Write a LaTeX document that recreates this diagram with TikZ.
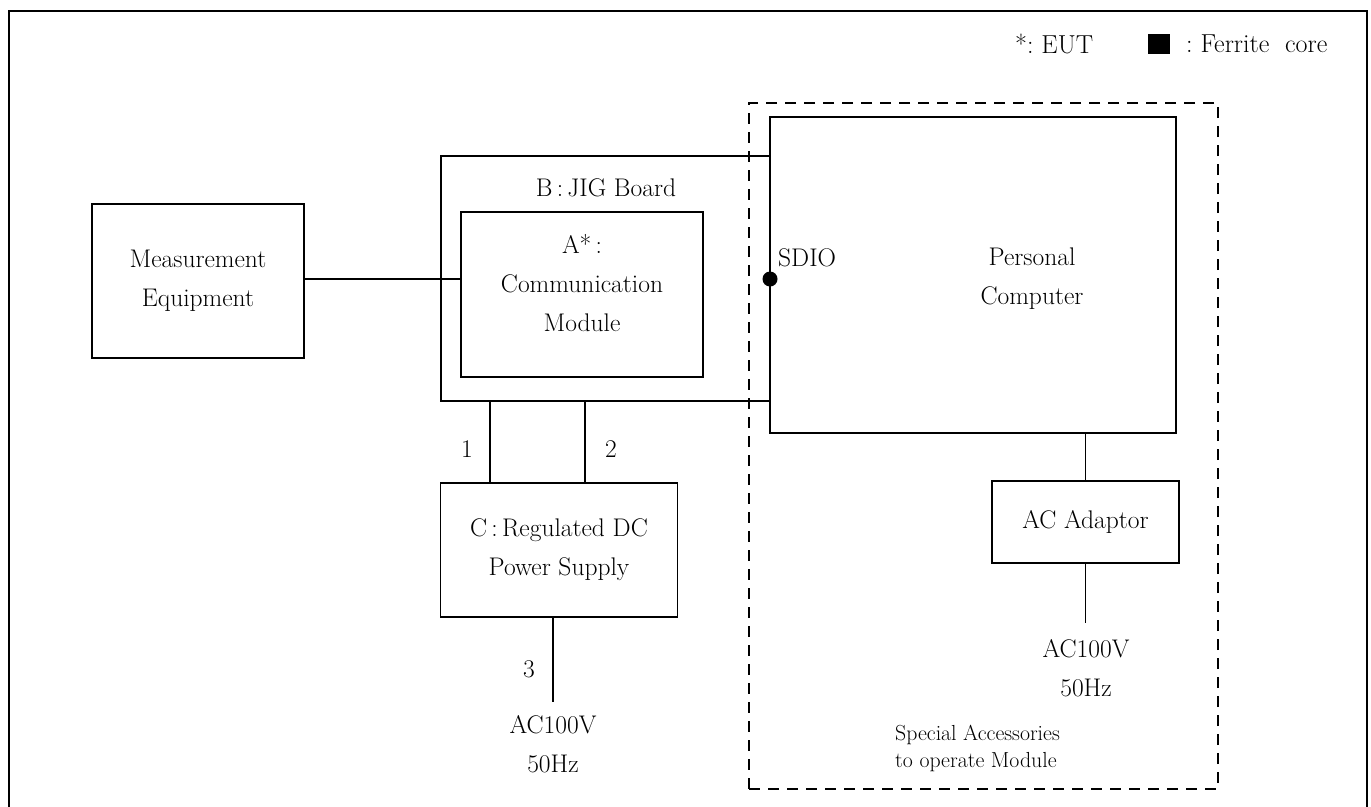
\documentclass[tikz,border=0pt]{standalone}
\newcommand\mainfs{\fontsize{25.5}{39}\selectfont}
\newcommand\smallfs{\fontsize{21.8}{27}\selectfont}
\newcommand\legfs{\fontsize{26}{30}\selectfont}
\tikzset{
  box/.style={draw, line width=1.7pt, inner sep=0pt, align=center, font=\mainfs},
  wire/.style={line width=1.7pt},
  txt/.style={inner sep=0pt, align=center, font=\mainfs},
  frame/.style={draw, line width=2.6pt, dash pattern=on 11pt off 8pt, inner sep=0pt},
}
\begin{document}
\begin{tikzpicture}[x=1pt,y=-1pt]
\useasboundingbox (0,0) rectangle (1371,806);
% outer border
\draw[line width=2.4pt] (9,815) -- (9,11) -- (1367,11) -- (1367,815);
% legend
\node[txt, font=\legfs, anchor=west] (eut) at (1015,44) {*:\ EUT};
\node[fill, minimum width=22pt, minimum height=20pt, inner sep=0pt] (fc) at (1159,44) {};
\node[txt, font=\legfs, anchor=west] (fclbl) at (1186,44) {:\ Ferrite\ \ core};
% dashed frame
\node[frame, minimum width=469pt, minimum height=686pt] (spec) at (983.5,446) {};
% boxes
\node[box, minimum width=212pt, minimum height=154pt] (meas) at (198,281) {Measurement\\Equipment};
\node[box, minimum width=329pt, minimum height=245pt] (jig) at (605.5,278.5) {};
\node[box, minimum width=242pt, minimum height=165pt] (comm) at (582,294.5) {};
\node[box, minimum width=406pt, minimum height=316pt] (pc) at (973,275) {};
\node[box, minimum width=237pt, minimum height=134pt] (dc) at (559,550) {C\,:\,Regulated DC\\Power Supply};
\node[box, minimum width=187pt, minimum height=82pt] (acad) at (1085.5,522) {AC Adaptor};
% labels inside
\node[txt] (jiglbl) at (606,188) {B\,:\,JIG Board};
\node[txt] (commlbl) at (582,283) {A*\,:\\Communication\\Module};
\node[txt] (pclbl) at (1032,279) {Personal\\Computer};
\node[circle, fill, minimum size=15pt, inner sep=0pt] (sdio) at (770,279) {};
\node[txt, anchor=west] (sdiolbl) at (778,258) {SDIO};
% connectors
\coordinate (rowA) at (0,279);
\draw[wire] (meas.east |- rowA) -- (comm.west |- rowA);
\coordinate (x1) at (490,0);
\coordinate (x2) at (585,0);
\draw[wire] (jig.south -| x1) -- (dc.north -| x1);
\draw[wire] (jig.south -| x2) -- (dc.north -| x2);
\node[txt] (n1) at (467,449) {1};
\node[txt] (n2) at (611,449) {2};
\coordinate (end3) at (553,702);
\draw[wire] (dc.south -| end3) -- (end3);
\node[txt] (n3) at (529,669) {3};
\node[txt] (ac1) at (553,744) {AC100V\\50Hz};
\draw[wire] (pc.south -| acad.north) -- (acad.north);
\coordinate (end4) at (1085.5,623);
\draw[wire] (acad.south) -- (end4);
\node[txt] (ac2) at (1086,668) {AC100V\\50Hz};
\node[txt, font=\smallfs, align=left, anchor=west] (speclbl) at (895,748) {Special Accessories\\to operate Module};
\end{tikzpicture}
\end{document}
